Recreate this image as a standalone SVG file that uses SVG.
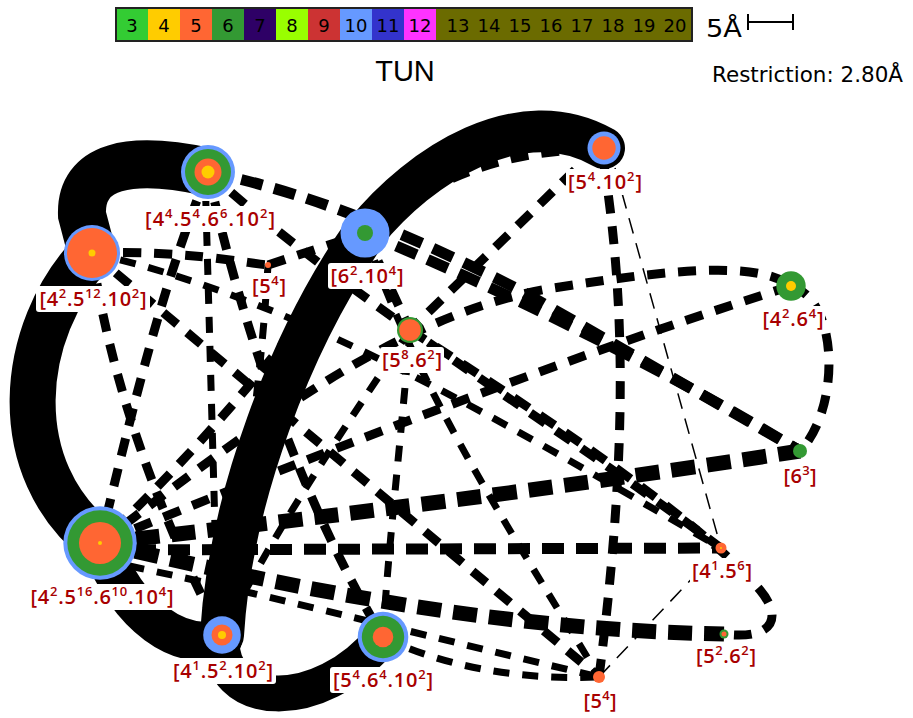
<svg xmlns="http://www.w3.org/2000/svg" width="913" height="718" viewBox="0 0 913 718">
<style>
.band{fill:none;stroke:#000;stroke-linecap:round}
.d{fill:none;stroke:#000;stroke-linecap:butt}
.w15{stroke-width:15;stroke-dasharray:24 12}
.w11{stroke-width:11;stroke-dasharray:22 12}
.w9{stroke-width:9;stroke-dasharray:18 13}
.w7{stroke-width:7;stroke-dasharray:16 13}
.w5{stroke-width:5;stroke-dasharray:14 12}
.thin{stroke-width:1.5;stroke-dasharray:16 10}
.lg{font-family:"DejaVu Sans","Liberation Sans",sans-serif;font-size:18px;fill:#000;text-anchor:middle}
.lab{font-family:"Open Sans","Noto Sans","DejaVu Sans",sans-serif;font-weight:600;font-size:20px;fill:#A80000;text-anchor:middle}
.s{font-size:13px}
.bg{fill:#fff}
.B{fill:#6699FF}.G{fill:#339933}.O{fill:#FF6633}.Y{fill:#FFCC00}
</style>

<g id="legend">
<rect x="116" y="8" width="32" height="33" fill="#33CC33"/>
<rect x="148" y="8" width="32" height="33" fill="#FFCC00"/>
<rect x="180" y="8" width="32" height="33" fill="#FF6633"/>
<rect x="212" y="8" width="32" height="33" fill="#339933"/>
<rect x="244" y="8" width="32" height="33" fill="#2E0066"/>
<rect x="276" y="8" width="32" height="33" fill="#99FF00"/>
<rect x="308" y="8" width="32" height="33" fill="#CC3333"/>
<rect x="340" y="8" width="32" height="33" fill="#6699FF"/>
<rect x="372" y="8" width="32" height="33" fill="#3333CC"/>
<rect x="404" y="8" width="32" height="33" fill="#FF33FF"/>
<rect x="436" y="8" width="256" height="33" fill="#6B6B00"/>
<rect x="116" y="8" width="576" height="33" fill="none" stroke="#222" stroke-width="2"/>
<text class="lg" x="132" y="32">3</text>
<text class="lg" x="164" y="32">4</text>
<text class="lg" x="196" y="32">5</text>
<text class="lg" x="228" y="32">6</text>
<text class="lg" x="260" y="32">7</text>
<text class="lg" x="292" y="32">8</text>
<text class="lg" x="324" y="32">9</text>
<text class="lg" x="356" y="32">10</text>
<text class="lg" x="388" y="32">11</text>
<text class="lg" x="420" y="32">12</text>
<text class="lg" x="458" y="32">13</text>
<text class="lg" x="489" y="32">14</text>
<text class="lg" x="520" y="32">15</text>
<text class="lg" x="551" y="32">16</text>
<text class="lg" x="582" y="32">17</text>
<text class="lg" x="613" y="32">18</text>
<text class="lg" x="644" y="32">19</text>
<text class="lg" x="675" y="32">20</text>
<text x="706" y="37" font-family="DejaVu Sans, sans-serif" font-size="24" textLength="36" lengthAdjust="spacingAndGlyphs">5Å</text>
<path d="M748,14 V30 M748,22 H793 M793,14 V30" stroke="#000" stroke-width="2" fill="none"/>
<text x="405" y="81" font-family="Liberation Sans, Arial, sans-serif" font-size="29" text-anchor="middle">TUN</text>
<text x="712" y="82" font-family="DejaVu Sans, sans-serif" font-size="22" textLength="191" lengthAdjust="spacingAndGlyphs">Restriction: 2.80Å</text>
</g>

<g id="connectors">
<path class="d w11" d="M208,172 C320,195 420,240 520,290 L800,451"/>
<path class="d w11" d="M365,233 C480,280 650,360 800,451"/>
<path class="d w15" d="M100,543 C300,520 550,490 800,451"/>
<path class="d w11" d="M100,550 L721,548"/>
<path class="d w15" d="M100,543 C300,590 500,630 724,634"/>
<path class="d w9" d="M604,165 C625,300 628,450 599,677"/>
<path class="d thin" d="M615,168 L721,548"/>
<path class="d thin" d="M599,677 L700,570"/>
<path class="d w9" d="M575,170 L410,330"/>
<path class="d w9" d="M590,150 C520,150 440,170 365,233"/>
<path class="d w9" d="M100,543 C250,430 400,310 560,287 C680,268 760,262 791,286"/>
<path class="d w9" d="M791,286 C840,300 840,410 800,451"/>
<path class="d w9" d="M791,286 C620,340 400,420 100,543"/>
<path class="d w9" d="M410,330 C550,420 700,520 760,590 C785,620 770,640 724,634"/>
<path class="d w7" d="M100,560 C250,590 400,630 599,677"/>
<path class="d w7" d="M383,637 C450,670 530,680 599,677"/>
<path class="d w7" d="M205,172 L218,635"/>
<path class="d w9" d="M208,172 C240,320 300,500 383,637"/>
<path class="d w9" d="M92,253 L599,677"/>
<path class="d w9" d="M208,172 C160,290 130,420 100,543"/>
<path class="d w9" d="M92,253 C110,380 160,520 222,635"/>
<path class="d w9" d="M92,253 C180,250 240,262 268,265"/>
<path class="d w9" d="M268,265 L365,233"/>
<path class="d w7" d="M92,253 C300,300 500,420 721,548"/>
<path class="d w7" d="M410,330 C400,450 388,550 383,637"/>
<path class="d w7" d="M410,330 C350,420 280,520 222,635"/>
<path class="d w9" d="M365,233 C300,330 200,450 100,543"/>
<path class="d w9" d="M208,172 C350,300 550,420 721,548"/>
<path class="d w7" d="M365,233 C420,400 530,560 599,677"/>
<path class="d w7" d="M268,265 C260,400 240,520 222,635"/>
<path class="d w9" d="M365,233 L410,330"/>
<path class="band" stroke-width="48" d="M208,172 C130,155 80,165 82,215 L92,253"/>
<path class="band" stroke-width="46" d="M92,253 C18,330 5,470 100,543"/>
<path class="band" stroke-width="40" d="M100,543 C130,620 180,650 222,640"/>
<path class="band" stroke-width="44" d="M222,635 C230,500 290,340 365,233"/>
<path class="band" stroke-width="42" d="M365,233 C420,165 520,100 604,148"/>
<path class="band" stroke-width="36" d="M222,635 C215,710 320,715 383,637"/>
</g>

<g id="n1">
<circle class="B" cx="208" cy="172" r="27"/><circle class="G" cx="208" cy="172" r="23"/><circle class="O" cx="208" cy="172" r="13.5"/><circle class="Y" cx="208" cy="172" r="6.5"/>
<rect class="bg" x="142" y="206" width="136" height="26" rx="3"/>
<text class="lab" x="210" y="226" textLength="130">[4<tspan class="s" dy="-8">4</tspan><tspan dy="8">.5</tspan><tspan class="s" dy="-8">4</tspan><tspan dy="8">.6</tspan><tspan class="s" dy="-8">6</tspan><tspan dy="8">.10</tspan><tspan class="s" dy="-8">2</tspan><tspan dy="8">]</tspan></text>
</g>
<g id="n2">
<circle class="B" cx="92" cy="253" r="28"/><circle class="O" cx="92" cy="253" r="25"/><circle class="Y" cx="92" cy="253" r="3.5"/>
<rect class="bg" x="36" y="286" width="114" height="26" rx="3"/>
<text class="lab" x="93" y="306" textLength="107">[4<tspan class="s" dy="-8">2</tspan><tspan dy="8">.5</tspan><tspan class="s" dy="-8">12</tspan><tspan dy="8">.10</tspan><tspan class="s" dy="-8">2</tspan><tspan dy="8">]</tspan></text>
</g>
<g id="n3">
<circle class="O" cx="268" cy="265" r="3"/>
<rect class="bg" x="250" y="273" width="38" height="26" rx="3"/>
<text class="lab" x="269" y="293" textLength="34">[5<tspan class="s" dy="-8">4</tspan><tspan dy="8">]</tspan></text>
</g>
<g id="n4">
<circle class="B" cx="365" cy="233" r="24.5"/><circle class="G" cx="365" cy="233" r="8"/>
<rect class="bg" x="328" y="263" width="78" height="26" rx="3"/>
<text class="lab" x="367" y="283" textLength="73">[6<tspan class="s" dy="-8">2</tspan><tspan dy="8">.10</tspan><tspan class="s" dy="-8">4</tspan><tspan dy="8">]</tspan></text>
</g>
<g id="n5">
<circle class="B" cx="604" cy="148" r="16.5"/><circle class="O" cx="604" cy="148" r="11.7"/>
<rect class="bg" x="566" y="169" width="78" height="26" rx="3"/>
<text class="lab" x="605" y="189" textLength="74">[5<tspan class="s" dy="-8">4</tspan><tspan dy="8">.10</tspan><tspan class="s" dy="-8">2</tspan><tspan dy="8">]</tspan></text>
</g>
<g id="n6">
<circle class="G" cx="410" cy="330" r="13"/><circle class="O" cx="410" cy="330" r="10.8"/>
<rect class="bg" x="380" y="347" width="64" height="26" rx="3"/>
<text class="lab" x="412" y="367" textLength="60">[5<tspan class="s" dy="-8">8</tspan><tspan dy="8">.6</tspan><tspan class="s" dy="-8">2</tspan><tspan dy="8">]</tspan></text>
</g>
<g id="n7">
<circle class="G" cx="791" cy="286" r="14.7"/><circle class="Y" cx="791" cy="286" r="5"/>
<rect class="bg" x="760" y="306" width="65" height="26" rx="3"/>
<text class="lab" x="793" y="326" textLength="61">[4<tspan class="s" dy="-8">2</tspan><tspan dy="8">.6</tspan><tspan class="s" dy="-8">4</tspan><tspan dy="8">]</tspan></text>
</g>
<g id="n8">
<circle class="G" cx="800" cy="451" r="7"/>
<rect class="bg" x="782" y="463" width="37" height="26" rx="3"/>
<text class="lab" x="800" y="483" textLength="33">[6<tspan class="s" dy="-8">3</tspan><tspan dy="8">]</tspan></text>
</g>
<g id="n9">
<circle class="B" cx="100" cy="543" r="36.7"/><circle class="G" cx="100" cy="543" r="32.7"/><circle class="O" cx="100" cy="543" r="21"/><circle class="Y" cx="100" cy="543" r="2"/>
<rect class="bg" x="27" y="584" width="149" height="26" rx="3"/>
<text class="lab" x="102" y="604" textLength="143">[4<tspan class="s" dy="-8">2</tspan><tspan dy="8">.5</tspan><tspan class="s" dy="-8">16</tspan><tspan dy="8">.6</tspan><tspan class="s" dy="-8">10</tspan><tspan dy="8">.10</tspan><tspan class="s" dy="-8">4</tspan><tspan dy="8">]</tspan></text>
</g>
<g id="n10">
<circle class="B" cx="222" cy="635" r="18.8"/><circle class="O" cx="222" cy="635" r="10.5"/><circle class="Y" cx="222" cy="635" r="4"/>
<rect class="bg" x="170" y="658" width="106" height="26" rx="3"/>
<text class="lab" x="223" y="678" textLength="100">[4<tspan class="s" dy="-8">1</tspan><tspan dy="8">.5</tspan><tspan class="s" dy="-8">2</tspan><tspan dy="8">.10</tspan><tspan class="s" dy="-8">2</tspan><tspan dy="8">]</tspan></text>
</g>
<g id="n11">
<circle class="B" cx="383" cy="637" r="25.3"/><circle class="G" cx="383" cy="637" r="21.2"/><circle class="O" cx="383" cy="637" r="10.3"/>
<rect class="bg" x="330" y="667" width="106" height="26" rx="3"/>
<text class="lab" x="383" y="687" textLength="100">[5<tspan class="s" dy="-8">4</tspan><tspan dy="8">.6</tspan><tspan class="s" dy="-8">4</tspan><tspan dy="8">.10</tspan><tspan class="s" dy="-8">2</tspan><tspan dy="8">]</tspan></text>
</g>
<g id="n12">
<circle class="O" cx="721" cy="548" r="5.5"/><circle class="Y" cx="721" cy="548" r="1"/>
<rect class="bg" x="690" y="558" width="64" height="26" rx="3"/>
<text class="lab" x="722" y="578" textLength="60">[4<tspan class="s" dy="-8">1</tspan><tspan dy="8">.5</tspan><tspan class="s" dy="-8">6</tspan><tspan dy="8">]</tspan></text>
</g>
<g id="n13">
<circle class="G" cx="724" cy="634" r="4.5"/><circle class="O" cx="724" cy="634" r="2.5"/>
<rect class="bg" x="694" y="643" width="64" height="26" rx="3"/>
<text class="lab" x="726" y="663" textLength="60">[5<tspan class="s" dy="-8">2</tspan><tspan dy="8">.6</tspan><tspan class="s" dy="-8">2</tspan><tspan dy="8">]</tspan></text>
</g>
<g id="n14">
<circle class="O" cx="599" cy="677" r="6"/>
<rect class="bg" x="581" y="688" width="37" height="26" rx="3"/>
<text class="lab" x="600" y="708" textLength="33">[5<tspan class="s" dy="-8">4</tspan><tspan dy="8">]</tspan></text>
</g>
</svg>
